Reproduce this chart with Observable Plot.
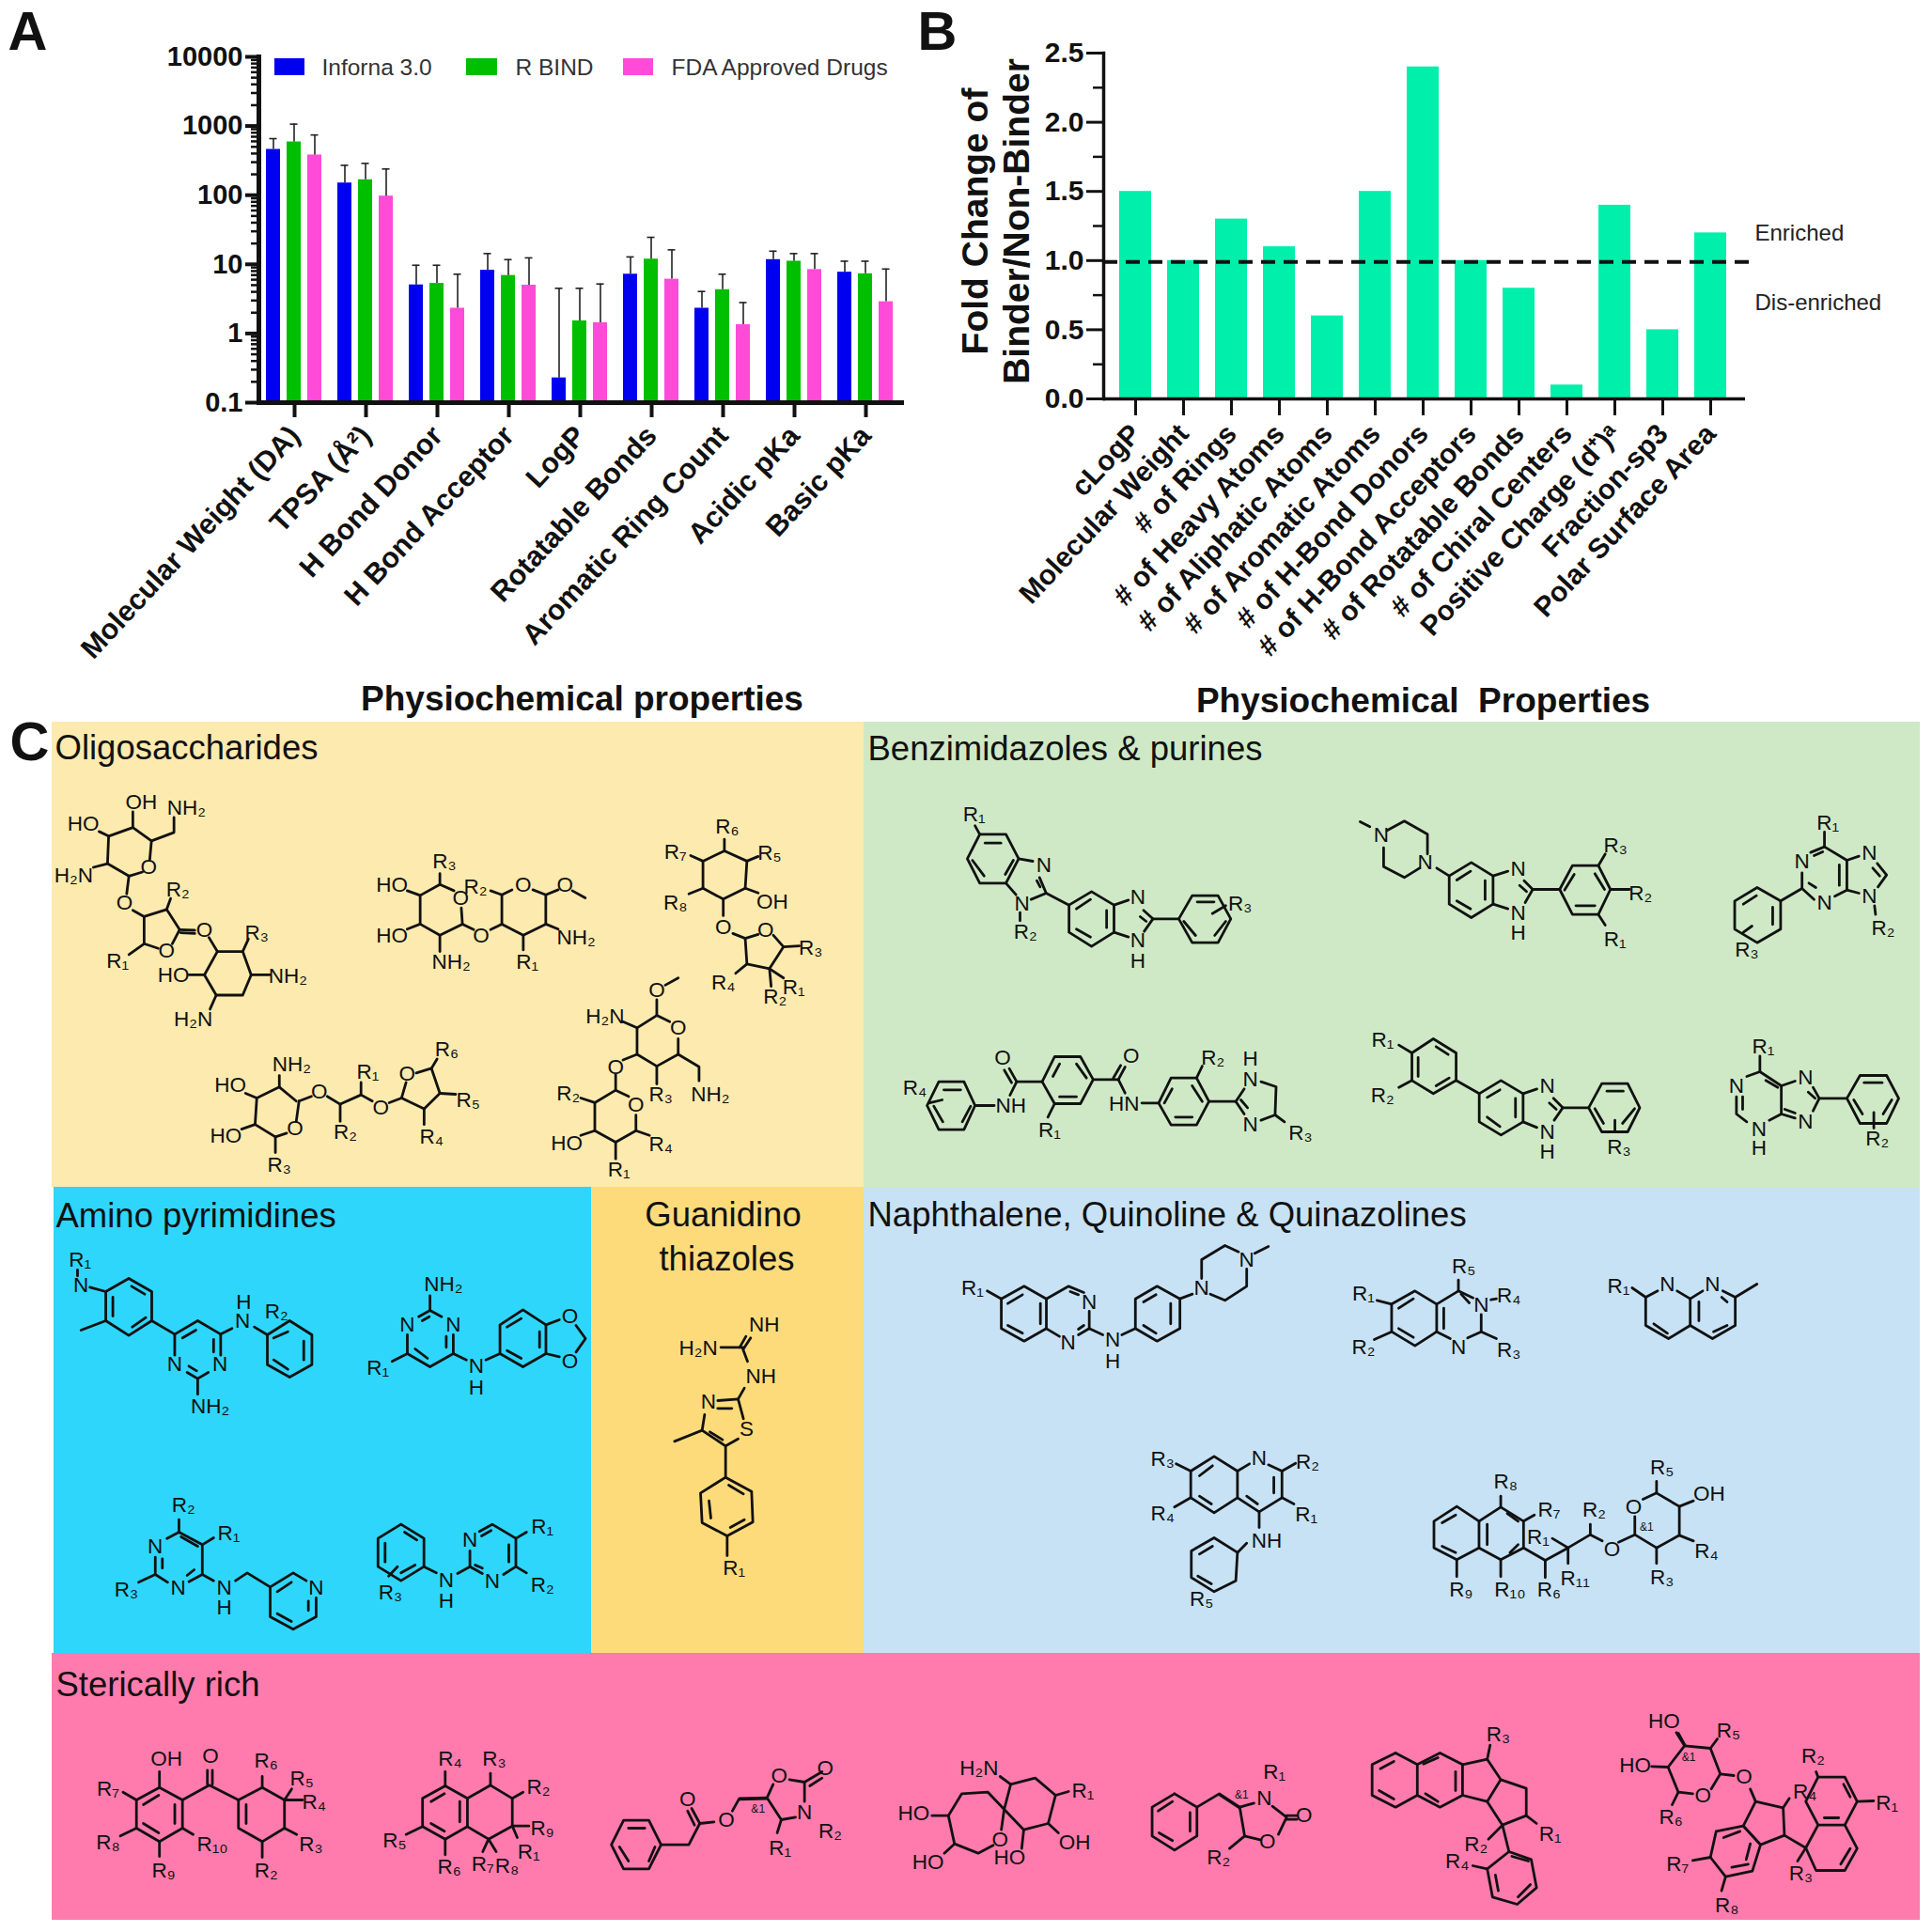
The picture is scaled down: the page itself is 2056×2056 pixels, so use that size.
<!DOCTYPE html>
<html>
<head>
<meta charset="utf-8">
<script src="https://cdn.jsdelivr.net/npm/d3@7"></script>
<script src="https://cdn.jsdelivr.net/npm/@observablehq/plot@0.6"></script>
<style>
html,body{margin:0;padding:0;background:#fff}
#page{position:relative;width:2056px;height:2056px;overflow:hidden}
#page svg{position:absolute;max-width:none}
</style>
</head>
<body>
<div id="page"></div>
<script>
const FONT='"Liberation Sans", Arial, sans-serif';
/* ---------- Panel A ---------- */
const catA=["Molecular Weight (DA)","TPSA (Å²)","H Bond Donor","H Bond Acceptor","LogP","Rotatable Bonds","Aromatic Ring Count","Acidic pKa","Basic pKa"];
const seriesA=["Inforna 3.0","R BIND","FDA Approved Drugs"];
const seriesColors=["#0000F0","#00BE00","#FF4BD8"];
const infornaValues=[459,150,5.04,8.2,0.228,7.2,2.32,11.7,7.7];
const infornaUpper=[657,270,9.7,14.3,4.5,12.8,4.05,15.5,11.1];
const rbindValues=[589,167,5.3,6.9,1.52,11.9,4.3,11.1,7.3];
const rbindUpper=[1064,288,9.7,11.7,4.5,24.6,7.2,14.3,11.1];
const fdaValues=[381,97,2.32,5.0,1.43,6.1,1.34,8.4,2.88];
const fdaUpper=[742,239,7.2,12.4,5.2,16.2,2.8,14.3,8.55];
const majorTicksA=[0.1,1,10,100,1000,10000];
const minorTicksA=[0.2,0.3,0.4,0.5,0.6,0.7,0.8,0.9,2,3,4,5,6,7,8,9,20,30,40,50,60,70,80,90,200,300,400,500,600,700,800,900,2000,3000,4000,5000,6000,7000,8000,9000];
/* ---------- Panel B ---------- */
const catB=["cLogP","Molecular Weight","# of Rings","# of Heavy Atoms","# of Aliphatic Atoms","# of Aromatic Atoms","# of H-Bond Donors","# of H-Bond Acceptors","# of Rotatable Bonds","# of Chiral Centers","Positive Charge (d⁺)ᵃ","Fraction-sp3","Polar Surface Area"];
const foldChange=[1.5,1.0,1.3,1.1,0.6,1.5,2.4,1.0,0.8,0.1,1.4,0.5,1.2];
const majorTicksB=[0,0.5,1,1.5,2,2.5];
const minorTicksB=[0.25,0.75,1.25,1.75,2.25];
/* ---------- Panel C backgrounds ---------- */
const panelRects=[
 {x1:55,x2:919,y1:768,y2:1263,c:"#FDEAAE"},
 {x1:919,x2:2043,y1:768,y2:1264,c:"#CFE9C6"},
 {x1:57,x2:629,y1:1263,y2:1759,c:"#2ED6FB"},
 {x1:629,x2:919,y1:1263,y2:1759,c:"#FEDB7A"},
 {x1:919,x2:2043,y1:1264,y2:1759,c:"#C7E2F4"},
 {x1:55,x2:2043,y1:1759,y2:2043,c:"#FF7BAD"}];
const headingTexts=[
 ["A",8,34,58,"bold","start"],["B",976,34,58,"bold","start"],["C",10,790,58,"bold","start"],
 ["Physiochemical properties",619,744,37,"bold","middle"],
 ["Physiochemical  Properties",1514,746,37,"bold","middle"],
 ["Oligosaccharides",58,796,36.5,"normal","start"],
 ["Benzimidazoles & purines",923,797,36.5,"normal","start"],
 ["Amino pyrimidines",59,1294,36.5,"normal","start"],
 ["Guanidino",769,1293,36.5,"normal","middle"],
 ["thiazoles",773,1340,36.5,"normal","middle"],
 ["Naphthalene, Quinoline & Quinazolines",923,1293,36.5,"normal","start"],
 ["Sterically rich",59,1793,36.5,"normal","start"]];
const legendItems=[
 {x1:292,x2:324,t:342,name:"Inforna 3.0",c:seriesColors[0]},
 {x1:496,x2:529,t:548,name:"R BIND",c:seriesColors[1]},
 {x1:663,x2:695,t:714,name:"FDA Approved Drugs",c:seriesColors[2]}];
/* ---------- Panel C structures ---------- */
const ring=a=>a.concat(a.slice(0,2));
const oligoBonds=[
 [192,390,235,362,268,405,265,465],[252,505,228,518,190,478,192,390],[235,362,235,312],[192,390,175,375],[268,405,308,378,308,330],[190,478,165,490],[228,518,224,575],
 [235,628,255,648,295,625,318,690,305,735],[280,750,255,735,255,648],[295,625,302,590],[255,735,228,770],[318,690,345,692],[320,700,345,702],
 ring([385,760,430,760,445,835,430,900,383,900,362,835]),[370,715,385,760],[430,760,440,720],[362,835,335,835],[445,835,478,835],[383,900,372,945],
 [805,565,780,545,745,580,745,672,780,708,820,672,818,620],[780,545,780,510],[745,580,722,565],[745,672,722,688],[780,708,780,760],[820,672,840,690],
 [870,690,890,672,890,578,870,565],[908,562,890,578],[945,562,968,578,968,672,928,708,890,672],[968,578,990,562],[1015,565,1038,588],[968,672,990,688],[928,708,928,755],
 ring([1285,437,1325,470,1322,557,1283,592,1247,557,1247,470]),[1285,437,1285,400],[1325,470,1345,455],[1247,470,1225,452],[1247,557,1222,575],[1322,557,1345,572],[1283,592,1283,645],
 [1300,702,1322,718,1345,705],[1372,708,1390,745,1365,815,1325,800,1322,718],[1390,745,1418,742],[1325,800,1305,830],[1365,815,1390,845],[1365,815,1368,872],
 [525,1240,495,1195,455,1230,452,1315,488,1355,508,1343],[530,1240,525,1305],[495,1195,495,1158],[455,1230,435,1215],[452,1315,428,1330],[488,1355,488,1405],[530,1240,552,1225],
 [580,1225,603,1250,640,1220,660,1240],[603,1250,603,1305],[640,1220,640,1180],[690,1245,712,1230],[712,1230,720,1180],[752,1265,712,1230],[752,1265,780,1215,765,1135,738,1150],[765,1135,775,1105],[780,1215,808,1218],[752,1265,752,1315],
 [1188,985,1165,965,1130,1005,1130,1090,1165,1128,1203,1090,1203,1040],[1165,965,1165,915],[1180,868,1203,845],[1130,1005,1105,985],[1203,1090,1240,1130,1240,1175],[1165,1128,1165,1185],[1130,1090,1105,1108],[1092,1155,1092,1205],
 [1115,1225,1092,1205,1055,1245,1055,1335,1092,1372,1128,1335,1128,1285],[1055,1245,1030,1230],[1055,1335,1030,1350],[1128,1335,1152,1350],[1092,1372,1092,1425]];
const oligoLabels=[
 ["OH",250,282],["HO",147,350],["NH₂",330,298],["H₂N",130,515],["O",263,490],["O",220,605],["R₂",315,562],["R₁",208,790],["O",295,757],["O",362,692],["R₃",455,700],["HO",307,835],["NH₂",510,838],["H₂N",342,978],
 ["R₃",788,470],["R₂",843,552],["O",817,588],["HO",695,548],["HO",695,708],["NH₂",800,795],["O",853,708],["O",928,548],["O",1002,548],["NH₂",1022,715],["R₁",935,795],
 ["R₆",1290,360],["R₅",1365,443],["R₇",1198,440],["R₈",1198,605],["OH",1370,600],["O",1283,682],["O",1358,690],["R₃",1438,748],["R₄",1283,860],["R₁",1408,875],["R₂",1375,905],
 ["NH₂",517,1122],["HO",408,1190],["HO",400,1352],["O",523,1328],["R₃",495,1445],["O",566,1210],["R₂",612,1340],["R₁",652,1148],["O",675,1262],["O",722,1152],["R₆",792,1075],["R₅",830,1238],["R₄",765,1355],
 ["O",1165,885],["H₂N",1073,968],["O",1203,1005],["NH₂",1260,1218],["R₃",1172,1220],["O",1092,1132],["O",1128,1252],["R₂",1008,1215],["HO",1005,1375],["R₄",1172,1378],["R₁",1098,1460]];
const benzBondsLeft=[
 ring([342,322,420,322,458,400,420,478,342,478,305,400]),[358,350,405,350],[320,405,355,455],[418,450,442,405],[342,322,328,295],[458,400,500,408],[520,460,538,505],[512,470,522,490],[540,510,495,530],[420,478,450,515],[462,572,462,598],[540,510,608,548],
 ring([608,548,675,505,742,548,742,635,675,680,608,635]),[630,560,672,530],[720,565,720,620],[630,625,672,650],[742,548,785,532],[830,565,858,592,832,632],[820,585,838,600],[742,635,785,650],[858,592,935,592],
 ring([935,592,975,518,1052,518,1090,592,1052,668,975,668]),[990,538,1040,538],[950,600,985,645],[1042,645,1075,600],[1035,575,1075,550],
 ring([328,1188,295,1112,220,1112,185,1188,220,1265,295,1265]),[235,1138,285,1138],[205,1190,232,1240],[290,1240,315,1190],[190,1180,230,1170],[328,1188,385,1188],[432,1155,452,1112,528,1112],[452,1112,430,1070],[437,1115,415,1075],
 ring([528,1112,565,1032,642,1032,680,1105,642,1182,565,1182]),[580,1055,560,1095],[630,1055,660,1100],[580,1160,630,1160],[565,1182,545,1225],[680,1105,755,1105],[755,1105,775,1065],[740,1100,762,1060],[755,1105,775,1148],[825,1180,875,1180],
 ring([875,1180,912,1100,988,1100,1025,1175,988,1250,912,1250]),[892,1180,915,1135],[975,1125,1005,1175],[925,1225,975,1225],[988,1100,1005,1062],[1025,1175,1105,1175],[1105,1175,1130,1135],[1180,1112,1225,1128,1222,1218,1180,1235],[1105,1175,1130,1215],[1120,1170,1140,1195],[1222,1218,1250,1240]];
const benzLabelsLeft=[
 ["R₁",325,258],["N",533,420],["N",468,545],["R₂",478,635],["N",813,522],["N",813,660],["H",813,728],["R₃",1118,545],
 ["R₄",148,1132],["NH",435,1190],["O",410,1035],["R₁",550,1268],["O",793,1030],["HN",772,1182],["R₂",1037,1035],["N",1148,1105],["H",1148,1040],["N",1148,1248],["R₃",1298,1275]];
const benzBondsRight=[
 [-90,282,-62,298],[-12,310,38,280,105,322,105,385],[82,430,38,460,-22,425,-22,365],[132,430,168,455],
 ring([168,455,232,412,295,455,295,545,232,588,168,545]),[190,468,230,440],[272,470,272,530],[190,535,230,560],[295,455,338,440],[385,470,410,498,388,540],[372,485,392,505],[295,545,338,560],[410,498,488,498],
 ring([488,498,525,422,600,422,635,498,600,578,525,578]),[502,500,530,450],[590,448,618,498],[535,550,590,550],[600,422,620,385],[635,498,690,498],[600,578,620,612],
 [1255,362,1320,405,1320,500,1285,520],[1225,530,1190,495,1190,445],[1215,380,1255,362],[1225,390,1250,378],[1298,420,1298,485],[1210,478,1230,492],[1255,362,1255,315],[1320,405,1355,392],[1408,415,1435,452,1410,490],[1395,430,1415,455],[1320,500,1355,510],[1400,550,1403,578],[1190,495,1128,535],
 ring([1128,535,1060,492,995,535,995,625,1060,668,1128,625]),[1020,545,1058,518],[1105,555,1105,610],[1020,635,1045,615],
 ring([60,1020,122,975,188,1020,188,1108,122,1150,60,1108]),[130,1000,165,1025],[78,1035,78,1095],[130,1125,168,1100],[60,1020,22,995],[60,1108,22,1130],[188,1108,255,1150],
 ring([255,1150,318,1108,382,1150,382,1240,318,1282,255,1240]),[278,1162,315,1138],[360,1165,360,1225],[278,1225,315,1255],[382,1150,422,1135],[470,1165,497,1195,472,1235],[458,1180,478,1200],[382,1240,422,1258],[497,1195,572,1195],
 ring([572,1195,610,1118,685,1118,720,1195,685,1272,610,1272]),[625,1142,672,1142],[590,1198,615,1245],[670,1245,705,1198],[648,1272,648,1235],
 [1068,1030,1068,1080],[1068,1080,1130,1125,1130,1215,1095,1235],[1030,1095,1068,1080],[1030,1240,1000,1215,1000,1160],[1018,1160,1018,1200],[1085,1108,1120,1130],[1130,1125,1170,1110],[1222,1130,1240,1165,1222,1205],[1208,1145,1228,1165],[1130,1215,1170,1228],[1140,1200,1170,1212],[1240,1165,1320,1165],
 ring([1320,1165,1358,1092,1435,1092,1470,1165,1435,1245,1358,1245]),[1370,1115,1422,1115],[1340,1170,1365,1215],[1425,1215,1450,1170],[1398,1210,1398,1260]];
const benzLabelsRight=[
 ["N",-29,325],["N",98,412],["N",368,432],["N",368,575],["H",368,638],["R₃",650,358],["R₂",722,510],["R₁",648,658],
 ["R₁",1265,285],["N",1190,408],["N",1255,540],["N",1385,382],["N",1385,520],["R₂",1425,622],["R₃",1030,690],
 ["R₁",-25,980],["R₂",-25,1155],["N",452,1125],["N",452,1272],["H",452,1335],["R₃",660,1320],
 ["R₁",1078,1000],["N",1000,1125],["N",1065,1265],["H",1065,1325],["N",1200,1098],["N",1200,1240],["R₂",1408,1295]];
const aminoBonds=[
 ring([230,270,295,312,295,405,230,452,165,405,165,312]),[238,295,275,320],[185,330,185,390],[240,425,278,395],[120,298,165,312],[85,243,85,262],[165,405,95,435],[295,405,360,448],
 [360,448,425,405,490,448,490,515],[470,465,470,505],[360,448,360,515],[382,460,420,435],[395,570,425,590,455,570],[400,550,422,565],[425,590,425,640],[490,448,522,430],[585,425,622,450],
 ring([622,450,685,405,748,450,748,545,685,585,622,545]),[725,470,725,530],[640,530,680,560],[640,460,680,440],
 [1050,392,1082,372,1115,392],[1060,405,1080,392],[1148,450,1148,510,1082,552,1018,510,1018,450],[1128,455,1128,490],[1040,495,1075,525],[1082,372,1082,325],[1018,510,975,535],[1148,510,1185,530],[1240,530,1280,510],
 ring([1280,510,1345,552,1410,510,1410,418,1345,370,1280,418]),[1300,500,1340,525],[1300,425,1340,398],[1392,440,1392,490],[1410,418,1448,402],[1410,510,1448,520],[1495,420,1522,462,1495,505],
 [338,1100,372,1080,438,1120,438,1215,400,1238],[378,1095,425,1125],[415,1200,395,1218],[340,1240,305,1215,305,1160],[325,1165,325,1195],[372,1080,372,1040],[438,1120,470,1098],[305,1215,258,1240],[438,1215,470,1235],[532,1235,565,1210,630,1255],
 [630,1255,695,1210,732,1235],[760,1290,760,1350,695,1390,630,1350,630,1255],[650,1270,690,1240],[738,1300,738,1330],[650,1340,690,1365],
 ring([1000,1055,1065,1100,1065,1190,1000,1235,935,1190,935,1100]),[1010,1080,1045,1105],[955,1115,955,1175],[1000,1210,1040,1185],[965,1220,990,1190],[1065,1190,1100,1210],[1160,1212,1195,1190,1195,1140],
 [1222,1078,1258,1055,1325,1100,1325,1190,1290,1215],[1228,1092,1255,1075],[1305,1120,1305,1175],[1195,1190,1230,1212],[1210,1185,1230,1195],[1325,1100,1355,1080],[1325,1190,1355,1210]];
const aminoLabels=[
 ["N",95,292],["R₁",92,210],["N",360,545],["N",488,545],["NH₂",460,680],["N",552,405],["H",555,345],["R₂",648,375],
 ["NH₂",1120,290],["N",1018,418],["N",1148,418],["R₁",935,555],["N",1213,550],["H",1213,618],["O",1478,392],["O",1478,535],
 ["R₂",385,995],["R₁",513,1085],["N",305,1125],["N",370,1258],["R₃",223,1265],["N",500,1258],["H",500,1322],["N",760,1258],
 ["R₃",970,1272],["N",1128,1235],["H",1128,1300],["N",1195,1105],["N",1258,1238],["R₁",1400,1062],["R₂",1400,1248]];
const guanBonds=[
 [410,490,480,490],[470,490,490,455],[482,495,505,460],[480,495,495,535],[485,620,465,655],[400,660,465,655,482,718],[400,685,445,685],[358,705,350,755,425,805,465,782],[375,760,415,785],[350,755,262,790],[425,805,425,905],
 ring([425,905,508,950,512,1048,430,1092,350,1050,345,955]),[435,930,482,958],[372,980,378,1035],[440,1065,485,1040],[430,1092,430,1155]];
const guanLabels=[["H₂N",338,492],["NH",548,418],["NH",538,582],["N",370,665],["S",492,752],["R₁",452,1195]];
const naphBonds=[
 ring([-147,335,-105,295,-64,335,-64,430,-105,470,-147,430]),[-173,310,-147,335],[-135,350,-108,322],[-75,350,-75,415],[-135,420,-108,445],[-64,335,-23,295,5,315],[-20,312,-5,322],[15,375,15,430,-5,450],[5,420,-5,432],[-64,430,-40,455],[15,430,40,450],[75,450,100,430],
 ring([100,430,140,470,182,430,182,335,140,295,100,335]),[115,345,138,322],[165,350,165,415],[115,420,138,445],[182,335,205,320],[222,270,222,210,265,165,290,185],[305,240,305,295,265,340,238,320],[320,190,345,168],
 ring([572,352,615,310,655,352,655,440,615,485,572,440]),[585,365,612,335],[668,365,668,430],[585,430,612,458],[572,352,545,340],[572,440,540,465],[655,352,695,310,722,332],[737,385,737,440,712,460],[680,462,655,440],[700,320,715,348],[695,310,695,275],[755,338,765,335],[737,440,765,462],
 [1015,300,1040,330],[1040,330,1062,310],[1098,310,1122,335,1122,420,1082,462,1040,420,1040,330],[1055,415,1080,445],[1122,335,1145,310],[1182,310,1205,330,1205,420,1163,462,1122,420],[1138,345,1138,405],[1165,440,1190,420],[1190,345,1180,330],[1205,330,1245,288],
 ring([202,885,245,838,288,885,288,970,245,1018,202,970]),[218,900,242,868],[218,965,240,990],[175,862,202,885],[202,970,172,1000],[288,885,310,862],[345,865,370,885,370,970,328,1015,288,970],[355,905,355,955],[305,965,325,990],[370,885,395,860],[370,970,392,990],[328,1015,328,1065],[305,1115,288,1145],
 ring([288,1145,245,1098,203,1140,203,1225,245,1270,285,1235]),[218,1150,242,1125],[215,1220,240,1245],
 ring([692,998,733,1045,733,1130,692,1168,650,1130,650,1045]),[665,1050,690,1025],[665,1125,690,1145],[733,1045,773,1000,815,1045,815,1130,773,1168,733,1130],[785,1020,805,1045],[748,1055,748,1120],[790,1145,805,1120],[773,1000,773,965],[815,1045,835,1025],[692,1168,692,1222],[773,1168,773,1222],[815,1130,855,1170,855,1225],[855,1170,897,1130],[868,1100,897,1130],[897,1130,897,1180],[897,1130,938,1088,960,1108],[938,1088,938,1055],[990,1112,1020,1088],
 [1020,1030,1020,1088,1060,1130,1102,1090,1102,998,1060,955,1035,975],[1060,955,1060,918],[1102,998,1128,980],[1102,1090,1128,1108],[1060,1130,1060,1180]];
const naphLabels=[
 ["R₁",-200,300],["N",-24,475],["N",15,345],["N",58,465],["H",58,535],["N",222,300],["N",305,212],
 ["R₁",520,318],["R₂",520,490],["R₅",705,232],["N",737,355],["R₄",788,325],["R₃",788,498],["N",695,490],
 ["R₁",990,295],["N",1080,290],["N",1163,290],
 ["R₃",150,848],["R₄",150,1020],["N",328,845],["R₂",417,855],["R₁",415,1025],["NH",342,1108],["R₅",222,1295],
 ["R₈",782,920],["R₇",862,1008],["R₉",700,1265],["R₁₀",790,1265],["R₆",862,1265],["R₁",842,1095],["R₁₁",910,1228],["R₂",945,1008],["O",978,1135],["O",1018,1000],["R₅",1070,875],["OH",1157,957],["R₄",1152,1140],["R₃",1070,1225]];
const stericBondsA=[
 ring([292,395,352,435,352,525,292,568,232,525,232,435]),[250,450,290,420],[332,450,332,510],[250,510,290,540],[292,395,292,345],[232,435,197,410],[232,525,190,550],[292,568,292,615],[352,525,380,545],[352,435,422,388,498,435],[417,385,417,340],[430,385,430,340],
 ring([498,435,560,395,618,435,618,525,560,568,498,525]),[518,450,518,510],[560,395,560,360],[618,435,637,400],[618,435,665,435],[618,525,650,545],[560,568,560,618],
 ring([1037,390,1095,430,1095,520,1037,560,978,520,978,430]),[1000,440,1035,415],[1075,440,1075,505],[1000,510,1035,535],[1037,390,1037,345],[978,520,935,545],[1037,560,1037,610],[1095,430,1155,388,1212,430,1212,518,1150,560,1095,520],[1155,388,1155,350],[1212,430,1240,410],[1212,518,1255,518],[1212,518,1225,555],[1150,560,1135,600],[1150,560,1170,600]];
const stericLabelsA=[
 ["OH",310,305],["R₇",158,400],["R₈",158,570],["R₉",303,660],["R₁₀",430,578],["O",425,295],["R₆",570,310],["R₅",663,368],["R₄",695,443],["R₃",687,578],["R₂",570,660],
 ["R₄",1050,305],["R₅",905,565],["R₆",1048,650],["R₃",1165,305],["R₂",1280,395],["R₉",1290,525],["R₁",1255,600],["R₇",1135,640],["R₈",1198,645]];
const stericBondsB=[
 ring([-92,578,-62,500,0,500,30,578,0,655,-62,655]),[-50,525,-10,525],[-72,585,-50,630],[0,630,15,585],[30,578,98,578,125,510],[125,510,105,462],[112,515,95,470],[125,510,160,505],[205,470,222,430,290,428],[222,433,290,431],[290,428,305,385],[345,370,382,378,382,440],[360,490,325,498,290,428],[382,378,425,345],[395,390,425,365],[325,498,315,540],
 [872,465,888,385,948,365,998,420,980,510,920,530,872,465],[872,465,832,410,768,415,735,485,750,575,808,605,845,580],[872,465,865,530],[888,385,862,360],[998,420,1030,408],[980,510,1005,540],[920,530,915,590],[735,485,695,485],[750,575,725,605],
 ring([1290,415,1345,458,1345,550,1290,595,1235,550,1235,458]),[1250,470,1285,440],[1328,475,1328,535],[1252,540,1285,565],[1345,458,1400,415,1450,458],[1400,418,1450,461],[1450,458,1462,550,1500,562],[1450,458,1485,445],[1530,455,1565,490,1545,545],[1565,485,1590,485],[1565,497,1590,497],[1462,550,1425,590]];
const stericLabelsB=[
 ["O",95,432],["O",190,500],["O",320,358],["N",382,475],["O",433,335],["R₁",322,590],["R₂",445,535],
 ["H₂N",810,335],["R₁",1065,405],["OH",1045,570],["HO",885,620],["HO",650,478],["HO",685,635],["O",862,562],
 ["N",1510,430],["R₁",1535,345],["R₂",1398,618],["O",1518,568],["O",1608,485]];
const stericBondsC=[
 ring([262,285,315,322,315,420,262,458,205,420,205,322]),[225,335,258,312],[222,405,258,432],[315,322,370,285,425,322,425,420,370,458,315,420],[330,320,365,300],[408,345,408,405],[335,415,365,440],[425,322,485,305,518,370,485,440,425,420],[485,305,492,260],[518,370,580,398,580,485,522,515,485,440],[580,485,605,510],[522,515,488,560],[522,515,538,600],
 ring([538,600,592,625,605,715,558,768,498,745,485,655]),[545,615,585,630],[505,675,512,725],[560,745,590,705],[485,655,450,645],
 [965,262,1028,270,1052,352,1030,400],[985,415,950,410,925,330,965,262],[965,262,945,220],[967,262,950,222],[1028,270,1045,240],[925,330,885,328],[950,410,935,450],[1052,352,1085,357],[1125,400,1138,440,1205,460,1220,430],[1138,440,1108,518,1150,578,1208,548,1205,460],
 ring([1108,518,1150,578,1130,662,1065,680,1028,618,1042,535]),[1060,555,1100,535],[1125,575,1115,625],[1080,650,1120,640],[1028,618,985,628],[1065,680,1055,725],[1208,548,1260,588],
 [1290,515,1260,440,1290,362,1355,362,1385,440,1355,515,1290,515],[1355,515,1385,590,1355,660,1285,660,1260,588,1290,515],[1305,492,1340,492],[1352,385,1368,425],[1345,640,1368,590],[1290,362,1285,345],[1385,440,1425,438],[1260,588,1240,630]];
const stericLabelsC=[
 ["R₃",512,225],["R₁",638,545],["R₂",458,578],["R₄",412,630],
 ["HO",915,185],["R₅",1072,213],["HO",845,325],["R₆",932,490],["O",1010,422],["O",1110,362],["R₄",1258,408],["R₇",948,640],["R₈",1068,772],["R₂",1278,295],["R₁",1458,445],["R₃",1248,670]];
const smallTags=[
 ["&1",1042,1065,1150,1270,1.731,3],["&1",268,465,690,1770,2.306,3],["&1",1455,418,690,1770,2.306,3],["&1",975,300,1370,1770,2.286,3]];
/* read-off frames of the structure sketches */
const sheets=[
 [oligoBonds,oligoLabels,0,760,1.668,3.015],
 [benzBondsLeft,benzLabelsLeft,920,780,2.8,3],
 [benzBondsRight,benzLabelsRight,1480,780,2.722,3],
 [aminoBonds,aminoLabels,50,1270,2.658,3],
 [guanBonds,guanLabels,630,1270,3,3],
 [naphBonds,naphLabels,1150,1270,1.731,3],
 [stericBondsA,stericLabelsA,50,1770,2.45,3],
 [stericBondsB,stericLabelsB,690,1770,2.306,3],
 [stericBondsC,stericLabelsC,1370,1770,2.286,3]];
const bondPoints=[],atomLabels=[];
sheets.forEach(([bonds,labels,x0,y0,sx,sy],s)=>{
  bonds.forEach((b,i)=>{for(let k=0;k<b.length;k+=2)bondPoints.push({x:x0+b[k]/sx,y:y0+b[k+1]/sy,id:s+"-"+i});});
  labels.forEach(([t,x,y])=>atomLabels.push({t,x:x0+x/sx,y:y0+y/sy}));
});
const tagLabels=smallTags.map(([t,x,y,x0,y0,sx,sy])=>({t,x:x0+x/sx,y:y0+y/sy}));
const headings=headingTexts.map(([t,x,y,size,weight,anchor])=>({t,x,y,size,weight,anchor}));

const page=document.getElementById("page");
const place=(el,left,top)=>{el.style.left=left+"px";el.style.top=top+"px";page.appendChild(el);};

/* base layer: panel C, headings, legend */
const base=Plot.plot({
  width:2056,height:2056,margin:0,
  style:{background:"#fff",fontFamily:FONT},
  x:{domain:[0,2056],range:[0,2056],axis:null},
  y:{domain:[0,2056],range:[0,2056],axis:null},
  color:{type:"identity"},
  marks:[
    Plot.rect(panelRects,{x1:"x1",x2:"x2",y1:"y1",y2:"y2",fill:"c"}),
    Plot.line(bondPoints,{x:"x",y:"y",z:"id",stroke:"#111",strokeWidth:2.8,strokeLinejoin:"round",strokeLinecap:"round"}),
    Plot.text(atomLabels,{x:"x",y:"y",text:"t",fontSize:22.5,fill:"#111",fontFamily:FONT}),
    Plot.text(tagLabels,{x:"x",y:"y",text:"t",fontSize:12,fill:"#111",fontFamily:FONT}),
    ...["start","middle"].flatMap(a=>["normal","bold"].flatMap(w=>[58,37,36.5].map(s=>
      Plot.text(headings.filter(h=>h.anchor===a&&h.weight===w&&h.size===s),{x:"x",y:"y",text:"t",textAnchor:a,fontWeight:w,fontSize:s,fill:"#111",fontFamily:FONT})))),
    Plot.rect(legendItems,{x1:"x1",x2:"x2",y1:()=>62,y2:()=>80,fill:"c"}),
    Plot.text(legendItems,{x:"t",y:()=>72,text:"name",textAnchor:"start",fontSize:24.5,fill:"#333",fontFamily:FONT})
  ]});
place(base,0,0);

/* panel A */
const rowsA=seriesA.flatMap((s,j)=>catA.map((c,i)=>({category:c,series:s,
  value:[infornaValues,rbindValues,fdaValues][j][i],upper:[infornaUpper,rbindUpper,fdaUpper][j][i]})));
const chartA=Plot.plot({
  width:1000,height:760,marginLeft:281,marginRight:40,marginTop:60,marginBottom:332,
  style:{background:"transparent",fontFamily:FONT,fontWeight:"bold",fontSize:"30.5px",color:"#111"},
  fx:{domain:catA,range:[274.5,959.4],padding:0,label:null},
  x:{domain:seriesA,paddingInner:0.3,paddingOuter:0.31,axis:null},
  y:{type:"log",domain:[0.1,10000],label:null},
  color:{domain:seriesA,range:seriesColors},
  marks:[
    Plot.barY(rowsA,{fx:"category",x:"series",y1:()=>0.1,y2:"value",fill:"series"}),
    Plot.ruleX(rowsA,{fx:"category",x:"series",y1:"value",y2:"upper",stroke:"#222",strokeWidth:1.6}),
    Plot.tickY(rowsA,{fx:"category",x:"series",y:"upper",stroke:"#222",strokeWidth:1.6,insetLeft:3.5,insetRight:3.5}),
    Plot.axisY(majorTicksA,{tickSize:14,strokeWidth:4,tickPadding:3,tickFormat:d=>String(d),label:null,fontSize:29}),
    Plot.axisY(minorTicksA,{tickSize:8,strokeWidth:2.5,tickFormat:()=>"",label:null}),
    Plot.axisFx({anchor:"bottom",label:null,tickRotate:-47,tickSize:16,strokeWidth:4,tickPadding:14}),
    Plot.frame({anchor:"left",facet:"super",strokeWidth:5,stroke:"#111"}),
    Plot.frame({anchor:"bottom",facet:"super",strokeWidth:5,stroke:"#111"})
  ]});
place(chartA,0,0);

/* panel B */
const rowsB=catB.map((c,i)=>({category:c,value:foldChange[i]}));
const chartB=Plot.plot({
  width:1056,height:760,marginLeft:174,marginRight:191,marginTop:56,marginBottom:336,
  style:{background:"transparent",fontFamily:FONT,fontWeight:"bold",fontSize:"30px",color:"#111"},
  x:{domain:catB,range:[181,846],paddingInner:0.335,paddingOuter:0.1675,label:null},
  y:{domain:[0,2.5],label:null},
  marks:[
    Plot.barY(rowsB,{x:"category",y:"value",fill:"#00EFAA"}),
    Plot.ruleY([1],{stroke:"#111",strokeWidth:4,strokeDasharray:"15 9",dy:1.5}),
    Plot.ruleY([0],{stroke:"#111",strokeWidth:3.5,insetRight:8}),
    Plot.axisY(majorTicksB,{tickSize:18,strokeWidth:3,tickPadding:3,tickFormat:d3.format(".1f"),label:null,fontSize:30}),
    Plot.axisY(minorTicksB,{tickSize:11,strokeWidth:2.5,tickFormat:()=>"",label:null}),
    Plot.axisX({label:null,tickRotate:-47,tickSize:18,strokeWidth:3,tickPadding:14}),
    Plot.frame({anchor:"left",strokeWidth:3.5,stroke:"#111"}),
    Plot.text(["Enriched"],{y:()=>1.2,frameAnchor:"right",textAnchor:"start",dx:2,fontSize:24,fontWeight:"normal",fill:"#222"}),
    Plot.text(["Dis-enriched"],{y:()=>0.694,frameAnchor:"right",textAnchor:"start",dx:2,fontSize:24,fontWeight:"normal",fill:"#222"}),
    Plot.text(["Fold Change of"],{frameAnchor:"left",textAnchor:"middle",rotate:-90,dx:-136,dy:-5,fontSize:39,fontWeight:"bold",fill:"#111"}),
    Plot.text(["Binder/Non-Binder"],{frameAnchor:"left",textAnchor:"middle",rotate:-90,dx:-92,dy:-5,fontSize:39,fontWeight:"bold",fill:"#111"})
  ]});
place(chartB,1000,0);
</script>
</body>
</html>
